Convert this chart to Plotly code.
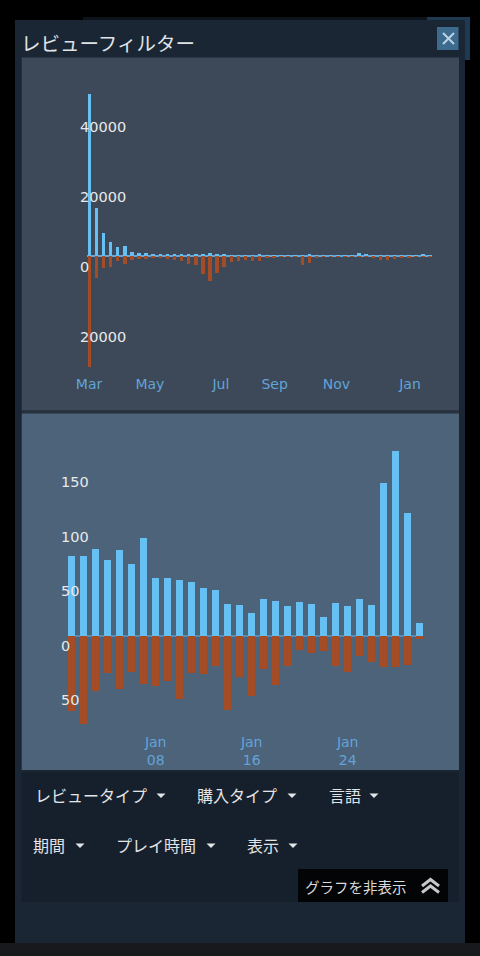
import plotly.graph_objects as go
import pandas as pd

# ---------------- data ----------------
# top chart: weekly review counts (positive / negative)
top_start = "2023-03-01"
top_positive = [46300, 13800, 6500, 4100, 2700, 2850, 1250, 950, 750, 500,
                400, 350, 300, 300, 300, 350, 500, 800, 450, 300,
                250, 250, 250, 250, 400, 250, 200, 150, 150, 150,
                250, 400, 200, 150, 150, 150, 150, 150, 900, 600,
                200, 250, 250, 250, 200, 200, 200, 300, 200]
top_negative = [31700, 6400, 3400, 3000, 1550, 2200, 1100, 800, 800, 600,
                600, 800, 1100, 1500, 2300, 2700, 5100, 7000, 4800, 3200,
                1650, 1500, 1000, 1350, 1500, 700, 400, 250, 200, 250,
                2600, 1900, 600, 250, 200, 200, 200, 200, 250, 250,
                300, 1100, 1000, 800, 500, 300, 250, 200, 200]
top_tick_dates = ["2023-03-01", "2023-04-30", "2023-07-09", "2023-08-31", "2023-10-31", "2024-01-11T12:00"]
top_tick_text = ["Mar", "May", "Jul", "Sep", "Nov", "Jan"]
top_y_ticks = [-20000, 0, 20000, 40000]
top_y_text = ["20000", "0", "20000", "40000"]

# bottom chart: daily review counts for January
bottom_start = "2024-01-01"
bottom_positive = [73, 73, 80, 69, 79, 66, 90, 53, 53, 51, 49, 44, 42, 29, 28,
                   21, 34, 32, 27, 31, 29, 17, 30, 27, 34, 28, 140, 169, 113, 12]
bottom_negative = [69, 81, 51, 34, 49, 33, 44, 46, 42, 58, 34, 35, 28, 68, 38,
                   55, 31, 45, 28, 13, 16, 14, 28, 33, 19, 24, 29, 29, 27, 3]
bottom_tick_dates = ["2024-01-08", "2024-01-16", "2024-01-24"]
bottom_tick_text = ["Jan<br>08", "Jan<br>16", "Jan<br>24"]
bottom_y_ticks = [-50, 0, 50, 100, 150]
bottom_y_text = ["50", "0", "50", "100", "150"]

title_text = "レビューフィルター"
filter_row1 = ["レビュータイプ", "購入タイプ", "言語"]
filter_row2 = ["期間", "プレイ時間", "表示"]
button_text = "グラフを非表示"

# ---------------- layout helpers ----------------
W, H = 480, 956
def fx(x): return x / W
def fy(y): return 1 - y / H

POS = "#66c0f4"
NEG = "#a34c25"
CJK = "Noto Sans CJK JP"

top_dates = pd.date_range(top_start, periods=len(top_positive), freq="7D")
bottom_dates = pd.date_range(bottom_start, periods=len(bottom_positive), freq="D")
DAY_MS = 86400000

fig = go.Figure()
fig.add_bar(x=top_dates, y=top_positive, xaxis="x", yaxis="y",
            marker=dict(color=POS, line_width=0), width=3.4 * DAY_MS)
fig.add_bar(x=top_dates, y=[-v for v in top_negative], xaxis="x", yaxis="y",
            marker=dict(color=NEG, line_width=0), width=3.4 * DAY_MS)
fig.add_bar(x=bottom_dates, y=bottom_positive, xaxis="x2", yaxis="y2",
            marker=dict(color=POS, line_width=0), width=0.56 * DAY_MS)
fig.add_bar(x=bottom_dates, y=[-v for v in bottom_negative], xaxis="x2", yaxis="y2",
            marker=dict(color=NEG, line_width=0), width=0.56 * DAY_MS)

# top axis geometry (pixels)
t0 = pd.Timestamp(top_start)
top_pxday = 7.1 / 7
top_left, top_right, top_first = 86.7, 431.7, 89
top_top, top_bot, top_zero = 80, 372, 256
top_scale = 20000 / 70
top_xrange = [t0 - pd.Timedelta(days=(top_first - top_left) / top_pxday),
              t0 + pd.Timedelta(days=(top_right - top_first) / top_pxday)]
top_yrange = [-(top_bot - top_zero) * top_scale, (top_zero - top_top) * top_scale]

b0 = pd.Timestamp(bottom_start)
bot_pxday = 12.0
bot_left, bot_right, bot_first = 68, 423, 71.7
bot_top, bot_bot, bot_zero = 440, 730, 635.7
bot_scale = 1 / 1.09
bot_xrange = [b0 - pd.Timedelta(days=(bot_first - bot_left) / bot_pxday),
              b0 + pd.Timedelta(days=(bot_right - bot_first) / bot_pxday)]
bot_yrange = [-(bot_bot - bot_zero) * bot_scale, (bot_zero - bot_top) * bot_scale]

ytick_font = dict(family="DejaVu Sans", size=14.5, color="#e9e9e9")
xtick_font = dict(family="DejaVu Sans", size=14, color="#62a4d8")

fig.update_layout(
    template="none",
    width=W, height=H, margin=dict(l=0, r=0, t=0, b=0, pad=0, autoexpand=False),
    paper_bgcolor="#000000", plot_bgcolor="rgba(0,0,0,0)",
    showlegend=False, barmode="relative", bargap=0,
    xaxis=dict(domain=[fx(top_left), fx(top_right)], anchor="y", type="date",
               range=top_xrange, tickvals=top_tick_dates, ticktext=top_tick_text,
               tickfont=xtick_font, showgrid=False, zeroline=False, showline=False,
               ticks="", ticklabelstandoff=2, automargin=False, fixedrange=True),
    yaxis=dict(domain=[fy(top_bot), fy(top_top)], anchor="free", position=fx(79),
               side="right", range=top_yrange,
               tickvals=top_y_ticks, ticktext=top_y_text, tickfont=ytick_font,
               ticklabelshift=11, showgrid=False, zeroline=True,
               zerolinecolor="#6aa3d0", zerolinewidth=2,
               showline=False, ticks="", automargin=False, fixedrange=True),
    xaxis2=dict(domain=[fx(bot_left), fx(bot_right)], anchor="y2", type="date",
                range=bot_xrange, tickvals=bottom_tick_dates, ticktext=bottom_tick_text,
                tickfont=xtick_font, showgrid=False, zeroline=False, showline=False,
                ticks="", ticklabelstandoff=2, automargin=False, fixedrange=True),
    yaxis2=dict(domain=[fy(bot_bot), fy(bot_top)], anchor="free", position=fx(60),
                side="right", range=bot_yrange,
                tickvals=bottom_y_ticks, ticktext=bottom_y_text, tickfont=ytick_font,
                ticklabelshift=10, showgrid=False, zeroline=True,
                zerolinecolor="#5a8bb3", zerolinewidth=1.5,
                showline=False, ticks="", automargin=False, fixedrange=True),
)

shapes = []
def rect(x0, y0, x1, y1, color, layer="below"):
    shapes.append(dict(type="rect", xref="paper", yref="paper",
                       x0=fx(x0), x1=fx(x1), y0=fy(y1), y1=fy(y0),
                       fillcolor=color, line_width=0, layer=layer))

def path(points, color, width=0, fill=None, closed=False):
    d = "M " + " L ".join(f"{fx(px):.5f},{fy(py):.5f}" for px, py in points)
    if closed:
        d += " Z"
    s = dict(type="path", xref="paper", yref="paper", path=d, layer="above")
    if fill:
        s.update(fillcolor=fill, line=dict(width=0))
    else:
        s.update(line=dict(color=color, width=width))
    shapes.append(s)

# background page bits
rect(83, 17, 470, 60, "#0d131a")
rect(427, 17, 470, 60, "#1d3a52")
# modal
rect(15, 20, 465, 943, "#1b2634")
rect(0, 943, 480, 956, "#17191d")
# chart panels
rect(21.7, 57.5, 459, 410.5, "#3d4958")
rect(21.7, 410.5, 459, 413.5, "#28323f")
rect(21.7, 413.5, 459, 770, "#4c637a")
# filter panel
rect(21.7, 772, 459, 902, "#16202d")
# close button
rect(437, 27, 458.5, 50, "#3d6b8d")
path([(443, 33), (454, 44)], "#bcd3e4", width=2)
path([(454, 33), (443, 44)], "#bcd3e4", width=2)
# hide-graph button
rect(298, 869, 448, 902, "#030405", layer="above")
path([(422, 886), (430.5, 879.5), (439, 886)], "#c8c8c8", width=3)
path([(422, 892.5), (430.5, 886), (439, 892.5)], "#c8c8c8", width=3)

annotations = []
annotations.append(dict(text=title_text, x=fx(19), y=fy(43), xref="paper", yref="paper",
                        xanchor="left", yanchor="middle", showarrow=False,
                        font=dict(family=CJK, size=19.5, color="#dfe3e6")))

label_font = dict(family=CJK, size=16, color="#e2e4e6")
row1_x = [(33, 161), (195, 292), (327, 374)]
row2_x = [(31, 80), (114, 211), (245, 293)]
for labels, xs, yc in ((filter_row1, row1_x, 795), (filter_row2, row2_x, 845)):
    for lab, (lx, tx) in zip(labels, xs):
        annotations.append(dict(text=lab, x=fx(lx), y=fy(yc), xref="paper", yref="paper",
                                xanchor="left", yanchor="middle", showarrow=False,
                                font=label_font))
        path([(tx - 4.5, yc - 1.5), (tx + 4.5, yc - 1.5), (tx, yc + 3)], None,
             fill="#e2e4e6", closed=True)

annotations.append(dict(text=button_text, x=fx(303), y=fy(886), xref="paper", yref="paper",
                        xanchor="left", yanchor="middle", showarrow=False,
                        font=dict(family=CJK, size=14.5, color="#d9dadb")))

fig.update_layout(shapes=shapes, annotations=annotations)
fig.write_html("out.html", config={"displayModeBar": False, "responsive": False})
